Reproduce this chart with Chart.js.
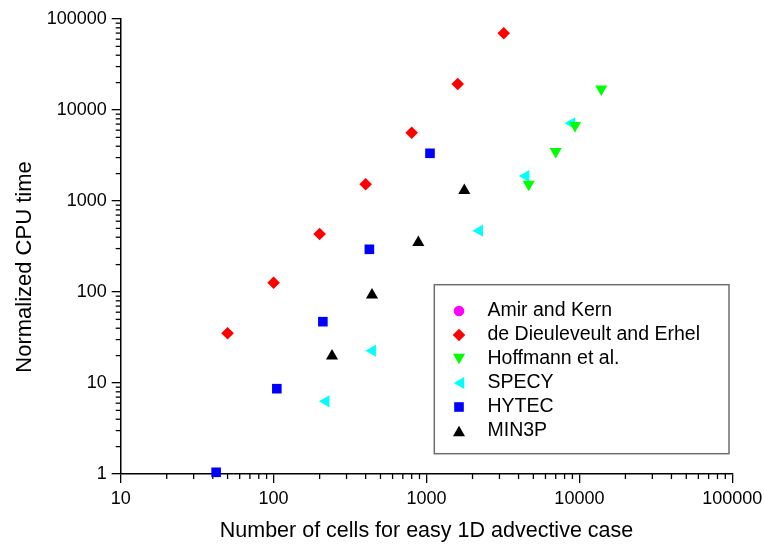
<!DOCTYPE html>
<html>
<head>
<meta charset="utf-8">
<script src="https://cdn.jsdelivr.net/npm/chart.js@4.4.1/dist/chart.umd.min.js"></script>
<style>
  html, body { margin: 0; padding: 0; background: #ffffff; }
  #wrap { width: 764px; height: 544px; }
</style>
</head>
<body>
<div id="wrap"><canvas id="cpu" width="764" height="544"></canvas></div>
<script>
// Series: number of cells (x) and normalized CPU time (y)
const seriesNames = ["Amir and Kern", "de Dieuleveult and Erhel", "Hoffmann et al.", "SPECY", "HYTEC", "MIN3P"];

const amirCells = [];
const amirCpu = [];

const dieuleveultCells = [50, 100, 200, 400, 800, 1600, 3200];
const dieuleveultCpu = [35.2, 126.5, 434, 1526, 5630, 19310, 69650];

const hoffmannCells = [4660, 7000, 9360, 13900];
const hoffmannCpu = [1528, 3494, 6746, 17030];

const specyCells = [220, 443, 2220, 4460, 8900];
const specyCpu = [6.29, 22.6, 472, 1883, 7144];

const hytecCells = [42.1, 105, 210, 423, 1054];
const hytecCpu = [1.044, 8.66, 47.2, 294.6, 3343];

const min3pCells = [241, 440, 884, 1767];
const min3pCpu = [19.8, 92.6, 350, 1306];

// Axis tick labels (decades)
const xTickValues = [10, 100, 1000, 10000, 100000];
const yTickValues = [1, 10, 100, 1000, 10000, 100000];

const xTitle = "Number of cells for easy 1D advective case";
const yTitle = "Normalized CPU time";

const FONT = "'Liberation Sans', Arial, sans-serif";

function toPoints(xs, ys) {
  return xs.map((x, i) => ({ x: x, y: ys[i] }));
}

const styles = [
  { color: "#ff00ff", pointStyle: "circle",   radius: 5.3, rotation: 0 },
  { color: "#ff0000", pointStyle: "rectRot",  radius: 6.3, rotation: 0 },
  { color: "#00ff00", pointStyle: "triangle", radius: 7,   rotation: 180 },
  { color: "#00ffff", pointStyle: "triangle", radius: 7,   rotation: -90 },
  { color: "#0000ff", pointStyle: "rect",     radius: 6.8, rotation: 0 },
  { color: "#000000", pointStyle: "triangle", radius: 7,   rotation: 0 }
];

const seriesData = [
  toPoints(amirCells, amirCpu),
  toPoints(dieuleveultCells, dieuleveultCpu),
  toPoints(hoffmannCells, hoffmannCpu),
  toPoints(specyCells, specyCpu),
  toPoints(hytecCells, hytecCpu),
  toPoints(min3pCells, min3pCpu)
];

const datasets = seriesNames.map((name, i) => ({
  label: name,
  data: seriesData[i],
  backgroundColor: styles[i].color,
  borderColor: styles[i].color,
  pointStyle: styles[i].pointStyle,
  pointRadius: styles[i].radius,
  pointHoverRadius: styles[i].radius,
  pointRotation: styles[i].rotation,
  pointBorderWidth: 0,
  showLine: false,
  clip: false
}));

// Short tick marks at 2..9 x 10^n, drawn outside the plot area
const minorTicks = {
  id: "minorTicks",
  beforeDatasetsDraw(chart) {
    const ctx = chart.ctx;
    const len = 5;
    ctx.save();
    ctx.strokeStyle = "#000";
    ctx.lineWidth = 1.3;
    ["x", "y"].forEach(id => {
      const scale = chart.scales[id];
      const lo = Math.floor(Math.log10(scale.min));
      const hi = Math.ceil(Math.log10(scale.max));
      for (let e = lo; e < hi; e++) {
        for (let k = 2; k <= 9; k++) {
          const v = k * Math.pow(10, e);
          if (v < scale.min || v > scale.max) continue;
          const p = scale.getPixelForValue(v);
          ctx.beginPath();
          if (id === "x") {
            ctx.moveTo(p, scale.top);
            ctx.lineTo(p, scale.top + len);
          } else {
            ctx.moveTo(scale.right, p);
            ctx.lineTo(scale.right - len, p);
          }
          ctx.stroke();
        }
      }
    });
    ctx.restore();
  }
};

// Vertical axis title, placed a little below the middle of the axis
const yAxisTitle = {
  id: "yAxisTitle",
  afterDraw(chart, args, opts) {
    const ctx = chart.ctx;
    ctx.save();
    ctx.translate(opts.x, opts.y);
    ctx.rotate(-Math.PI / 2);
    ctx.fillStyle = "#000";
    ctx.font = opts.font;
    ctx.textAlign = "center";
    ctx.textBaseline = "middle";
    ctx.fillText(opts.text, 0, 0);
    ctx.restore();
  }
};

// Boxed legend inside the plot area
const boxLegend = {
  id: "boxLegend",
  afterDatasetsDraw(chart, args, opts) {
    const ctx = chart.ctx;
    ctx.save();
    ctx.strokeStyle = opts.borderColor;
    ctx.lineWidth = opts.borderWidth;
    ctx.fillStyle = "#ffffff";
    ctx.fillRect(opts.left, opts.top, opts.width, opts.height);
    ctx.strokeRect(opts.left, opts.top, opts.width, opts.height);
    chart.data.datasets.forEach((ds, i) => {
      const y = opts.firstRow + i * opts.rowGap;
      const r = ds.pointRadius;
      let mx = opts.markerX, my = y;
      if (ds.pointStyle === "triangle") {
        if (ds.pointRotation === 0) my += r / 4;
        else if (ds.pointRotation === 180) my -= r / 4;
        else mx += r / 4;
      }
      ctx.fillStyle = ds.backgroundColor;
      Chart.helpers.drawPoint(ctx, {
        pointStyle: ds.pointStyle,
        radius: r,
        rotation: ds.pointRotation,
        borderWidth: 0
      }, mx, my);
      ctx.fillStyle = "#000";
      ctx.font = opts.font;
      ctx.textAlign = "left";
      ctx.textBaseline = "middle";
      ctx.fillText(ds.label, opts.textX, y);
    });
    ctx.restore();
  }
};

new Chart(document.getElementById("cpu"), {
  type: "scatter",
  data: { datasets: datasets },
  options: {
    responsive: false,
    animation: false,
    devicePixelRatio: 1,
    layout: { padding: { top: 19, right: 31.7, bottom: 0, left: 0 } },
    plugins: {
      legend: { display: false },
      tooltip: { enabled: false },
      yAxisTitle: { text: yTitle, x: 24.7, y: 267, font: "22px " + FONT },
      boxLegend: {
        left: 434.3, top: 284.7, width: 294.7, height: 169,
        borderColor: "#6e6e6e", borderWidth: 1.5,
        markerX: 459, textX: 487.5, firstRow: 311, rowGap: 24,
        font: "19.5px " + FONT
      }
    },
    scales: {
      x: {
        type: "logarithmic",
        min: 10,
        max: 100000,
        afterFit(scale) {
          scale.height = 70;
          scale.paddingLeft = 0;
          scale.paddingRight = 0;
        },
        afterBuildTicks(scale) { scale.ticks = xTickValues.map(v => ({ value: v, major: true })); },
        border: { display: true, color: "#000", width: 1.5 },
        grid: { display: true, drawOnChartArea: false, drawTicks: true, tickLength: 9, color: "#000", lineWidth: 1.3 },
        ticks: {
          autoSkip: false,
          maxRotation: 0,
          padding: 5,
          color: "#000",
          font: { family: FONT, size: 18 },
          callback: v => String(v)
        },
        title: {
          display: true,
          text: xTitle,
          color: "#000",
          font: { family: FONT, size: 21.5 },
          padding: { top: 0, bottom: 0 }
        }
      },
      y: {
        type: "logarithmic",
        min: 1,
        max: 100000,
        afterFit(scale) {
          scale.width = 120.7;
          scale.paddingTop = 0;
          scale.paddingBottom = 0;
        },
        afterBuildTicks(scale) { scale.ticks = yTickValues.map(v => ({ value: v, major: true })); },
        border: { display: true, color: "#000", width: 1.5 },
        grid: { display: true, drawOnChartArea: false, drawTicks: true, tickLength: 9, color: "#000", lineWidth: 1.3 },
        ticks: {
          autoSkip: false,
          padding: 5,
          color: "#000",
          font: { family: FONT, size: 18 },
          callback: v => String(v)
        },
        title: { display: false }
      }
    }
  },
  plugins: [minorTicks, yAxisTitle, boxLegend]
});
</script>
</body>
</html>
